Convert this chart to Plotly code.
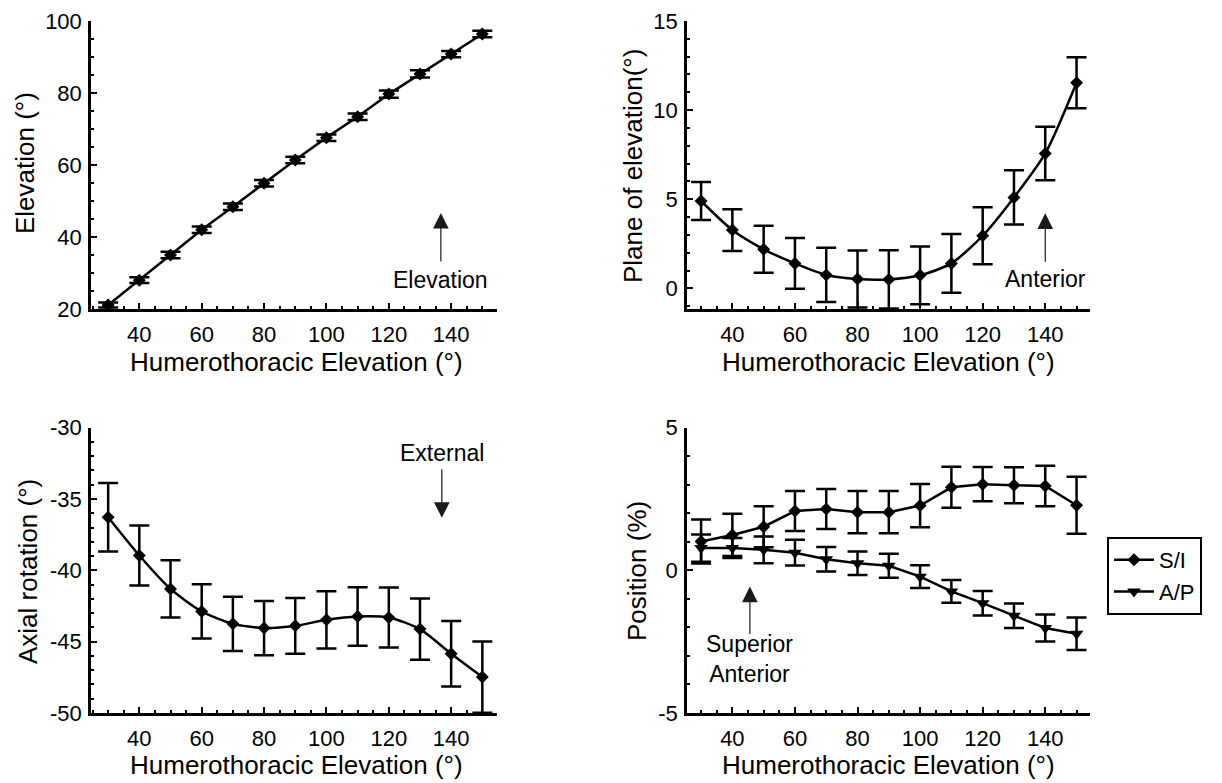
import plotly.graph_objects as go

# page body has an 8px margin, so the figure is sized to the remaining viewport
OFF = 8
W, H = 1222 - OFF, 783 - OFF

# ---------------- data ----------------
hte = [30, 40, 50, 60, 70, 80, 90, 100, 110, 120, 130, 140, 150]

elev_mean = [21.1, 28.0, 35.0, 42.0, 48.4, 54.9, 61.4, 67.6, 73.4, 79.7, 85.3, 90.8, 96.4]
elev_sd = [0.7, 0.8, 0.9, 0.9, 0.9, 0.9, 0.9, 0.9, 0.9, 1.0, 1.0, 0.9, 0.9]

poe_mean = [4.9, 3.27, 2.19, 1.4, 0.75, 0.52, 0.5, 0.73, 1.4, 2.95, 5.1, 7.57, 11.54]
poe_sd = [1.07, 1.17, 1.32, 1.43, 1.52, 1.6, 1.63, 1.62, 1.65, 1.6, 1.52, 1.5, 1.43]

axial_mean = [-36.28, -38.96, -41.3, -42.88, -43.75, -44.05, -43.89, -43.47, -43.23, -43.3, -44.12, -45.85, -47.48]
axial_sd = [2.4, 2.1, 2.0, 1.9, 1.9, 1.9, 1.95, 2.0, 2.05, 2.1, 2.15, 2.3, 2.5]

si_mean = [1.01, 1.24, 1.53, 2.08, 2.15, 2.04, 2.04, 2.27, 2.91, 3.02, 2.98, 2.96, 2.28]
si_sd = [0.77, 0.74, 0.72, 0.7, 0.7, 0.74, 0.74, 0.76, 0.72, 0.6, 0.63, 0.71, 1.0]

ap_mean = [0.78, 0.78, 0.72, 0.62, 0.39, 0.25, 0.16, -0.22, -0.74, -1.15, -1.59, -2.02, -2.22]
ap_sd = [0.48, 0.35, 0.47, 0.45, 0.43, 0.41, 0.42, 0.4, 0.4, 0.43, 0.43, 0.47, 0.57]

x_ticks = [40, 60, 80, 100, 120, 140]
elev_ticks = [20, 40, 60, 80, 100]
poe_ticks = [0, 5, 10, 15]
axial_ticks = [-50, -45, -40, -35, -30]
pos_ticks = [-5, 0, 5]
x_title = "Humerothoracic Elevation (°)"

FONT = "Arial, Liberation Sans, Helvetica, sans-serif"
TICK_SIZE = 22
TITLE_SIZE = 26
ANN_SIZE = 23


def px(xp):
    return (xp - OFF) / W


def py(yp):
    return 1 - (yp - OFF) / H


def labels(vals):
    return [str(v) for v in vals]   # ASCII hyphen for negatives


# panel geometry (pixels in the 1222x783 picture)
LX = (91, 497)
RX = (687, 1090)
TY = (21, 309)
BY = (427.7, 713)

fig = go.Figure()


def add_series(xa, ya, y, sd, symbol, name, showlegend=False, shape="linear", msize=10):
    fig.add_trace(go.Scatter(
        x=hte, y=y, xaxis=xa, yaxis=ya, name=name, showlegend=showlegend,
        mode="lines+markers",
        line=dict(color="black", width=2.5, shape=shape, smoothing=0.7),
        marker=dict(symbol=symbol, size=msize, color="black"),
        error_y=dict(type="data", array=sd, visible=True, color="black",
                     thickness=2.5, width=10),
        cliponaxis=False,
    ))


add_series("x", "y", elev_mean, elev_sd, "diamond", "Elevation")
add_series("x2", "y2", poe_mean, poe_sd, "diamond", "Plane", shape="spline")
add_series("x3", "y3", axial_mean, axial_sd, "diamond", "Axial", shape="spline")
add_series("x4", "y4", si_mean, si_sd, "diamond", "S/I", showlegend=True)
add_series("x4", "y4", ap_mean, ap_sd, "triangle-down", "A/P", showlegend=True, msize=12)

axis_common = dict(
    showline=True, linecolor="black", linewidth=2.5, mirror=False,
    ticks="inside", ticklen=6, tickwidth=2, tickcolor="black",
    showgrid=False, zeroline=False, automargin=False,
    tickfont=dict(family=FONT, size=TICK_SIZE, color="black"),
)


def minor(d):
    return dict(dtick=d, tick0=0, ticks="inside", ticklen=3, tickwidth=2, tickcolor="black")


xl_range = [24.5, 154.7]
xr_range = [25.5, 154.3]
XSO = 4
YSO = 2

fig.update_layout(
    xaxis=dict(domain=[px(LX[0]), px(LX[1])], anchor="y", range=xl_range,
               tickvals=x_ticks, ticktext=labels(x_ticks), minor=minor(5),
               ticklabelstandoff=XSO, **axis_common),
    yaxis=dict(domain=[py(TY[1]), py(TY[0])], anchor="x", range=[20, 100],
               tickvals=elev_ticks, ticktext=labels(elev_ticks), minor=minor(5),
               ticklabelstandoff=YSO, **axis_common),
    xaxis2=dict(domain=[px(RX[0]), px(RX[1])], anchor="y2", range=xr_range,
                tickvals=x_ticks, ticktext=labels(x_ticks), minor=minor(5),
                ticklabelstandoff=XSO, **axis_common),
    yaxis2=dict(domain=[py(TY[1]), py(TY[0])], anchor="x2", range=[-1.16, 15],
                tickvals=poe_ticks, ticktext=labels(poe_ticks), minor=minor(1),
                ticklabelstandoff=YSO, **axis_common),
    xaxis3=dict(domain=[px(LX[0]), px(LX[1])], anchor="y3", range=xl_range,
                tickvals=x_ticks, ticktext=labels(x_ticks), minor=minor(5),
                ticklabelstandoff=XSO, **axis_common),
    yaxis3=dict(domain=[py(BY[1]), py(BY[0])], anchor="x3", range=[-50, -30],
                tickvals=axial_ticks, ticktext=labels(axial_ticks), minor=minor(1),
                ticklabelstandoff=YSO, **axis_common),
    xaxis4=dict(domain=[px(RX[0]), px(RX[1])], anchor="y4", range=xr_range,
                tickvals=x_ticks, ticktext=labels(x_ticks), minor=minor(5),
                ticklabelstandoff=XSO, **axis_common),
    yaxis4=dict(domain=[py(BY[1]), py(BY[0])], anchor="x4", range=[-5, 5],
                tickvals=pos_ticks, ticktext=labels(pos_ticks), minor=minor(1),
                ticklabelstandoff=YSO, **axis_common),
)

annotations = []

# axis titles
for cx, cy in [((LX[0] + LX[1]) / 2 + 2, 362), ((RX[0] + RX[1]) / 2, 362),
               ((LX[0] + LX[1]) / 2 + 2, 765), ((RX[0] + RX[1]) / 2, 765)]:
    annotations.append(dict(text=x_title, x=px(cx), y=py(cy), xref="paper", yref="paper",
                            showarrow=False, xanchor="center", yanchor="middle",
                            font=dict(family=FONT, size=TITLE_SIZE, color="black")))

for txt, cx, cy in [("Elevation (°)", 25, 163), ("Plane of elevation(°)", 633, 166),
                    ("Axial rotation (°)", 28, 572), ("Position (%)", 637, 571)]:
    annotations.append(dict(text=txt, x=px(cx), y=py(cy), xref="paper", yref="paper",
                            showarrow=False, xanchor="center", yanchor="middle", textangle=-90,
                            font=dict(family=FONT, size=TITLE_SIZE, color="black")))

arrow_style = dict(showarrow=True, arrowhead=2, arrowsize=2.6, arrowwidth=1.2,
                   arrowcolor="#1a1a1a", text="", axref="pixel", ayref="pixel")

# top-left: Elevation
annotations.append(dict(x=136.7, y=46.7, xref="x", yref="y", ax=0, ay=50, **arrow_style))
annotations.append(dict(text="Elevation", x=136.7, y=28.1, xref="x", yref="y", showarrow=False,
                        font=dict(family=FONT, size=ANN_SIZE, color="black")))
# top-right: Anterior
annotations.append(dict(x=140, y=4.21, xref="x2", yref="y2", ax=0, ay=50, **arrow_style))
annotations.append(dict(text="Anterior", x=140, y=0.55, xref="x2", yref="y2", showarrow=False,
                        font=dict(family=FONT, size=ANN_SIZE, color="black")))
# bottom-left: External
annotations.append(dict(x=137, y=-36.32, xref="x3", yref="y3", ax=0, ay=-50, **arrow_style))
annotations.append(dict(text="External", x=137, y=-31.77, xref="x3", yref="y3", showarrow=False,
                        font=dict(family=FONT, size=ANN_SIZE, color="black")))
# bottom-right: Superior / Anterior
annotations.append(dict(x=45.6, y=-0.57, xref="x4", yref="y4", ax=0, ay=49, **arrow_style))
annotations.append(dict(text="Superior<br>Anterior", x=45.6, y=-3.12, xref="x4", yref="y4", showarrow=False,
                        font=dict(family=FONT, size=ANN_SIZE, color="black")))

fig.update_layout(
    annotations=annotations,
    width=W, height=H,
    margin=dict(l=0, r=0, t=0, b=0),
    paper_bgcolor="white", plot_bgcolor="white",
    font=dict(family=FONT, color="black"),
    showlegend=True,
    legend=dict(x=px(1107), y=py(537), xanchor="left", yanchor="top",
                bordercolor="black", borderwidth=2, bgcolor="white",
                font=dict(family=FONT, size=22, color="black"),
                tracegroupgap=0, itemwidth=40),
)

fig.write_html("out.html")
